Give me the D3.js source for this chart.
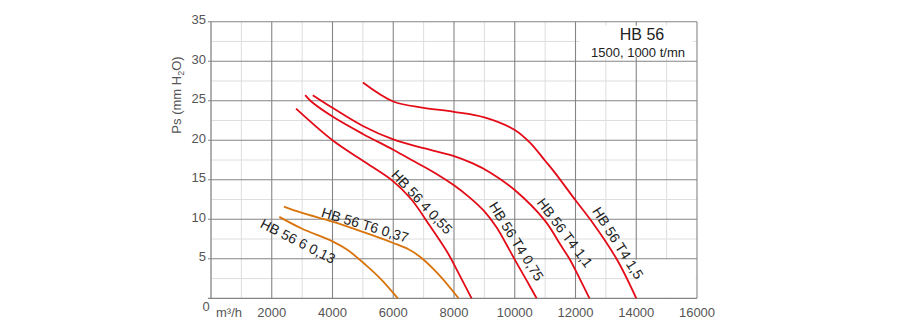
<!DOCTYPE html>
<html>
<head>
<meta charset="utf-8">
<script src="https://cdn.jsdelivr.net/npm/d3@7"></script>
<style>
  html, body { margin: 0; padding: 0; background: #fff; }
  svg { display: block; font-family: "Liberation Sans", Arial, sans-serif; }
</style>
</head>
<body>
<svg id="chart" width="900" height="328"></svg>
<script>
// ---- data ----
const xTicks = [2000, 4000, 6000, 8000, 10000, 12000, 14000, 16000];
const yTicks = [5, 10, 15, 20, 25, 30, 35];
const xMinor = [1000, 3000, 5000, 7000, 9000, 11000, 13000, 15000];
const yMinor = [2.5, 7.5, 12.5, 17.5, 22.5, 27.5, 32.5];

const curve_6_013 = [[2250,10.3],[3000,8.8],[4000,7.2],[4500,6.1],[5100,4.2],[5600,2.4],[6150,0]];
const curve_T6_037 = [[2400,11.6],[3000,10.8],[4000,9.7],[5000,8.4],[6000,7.0],[6500,6.2],[6900,5.2],[7500,3.0],[8150,0]];
const curve_4_055 = [[2800,24.0],[4000,20.0],[5000,17.4],[6000,14.8],[6600,12.5],[7200,9.2],[7800,5.7],[8200,2.8],[8580,0]];
const curve_T4_075 = [[3100,25.7],[3300,24.9],[4000,23.0],[5000,20.8],[6000,18.8],[6700,17.3],[7400,15.8],[8000,14.3],[8500,12.8],[9000,11.0],[9400,9.0],[9700,7.0],[10000,4.9],[10400,2.2],[10720,0]];
const curve_T4_11 = [[3350,25.7],[4000,24.1],[5000,21.8],[6000,20.1],[7000,19.0],[8000,18.0],[8600,17.1],[9200,15.9],[10000,13.7],[11000,9.8],[11500,6.8],[11800,5.0],[12150,2.4],[12460,0]];
const curve_T4_15 = [[5000,27.3],[6000,24.9],[7000,24.1],[8000,23.6],[9000,22.9],[10000,21.3],[10500,19.7],[11000,17.4],[11300,16.0],[12000,12.4],[12500,9.9],[13350,5.0],[14000,0]];

const seriesNames = ["HB 56 6 0,13","HB 56 T6 0,37","HB 56 4 0,55","HB 56 T4 0,75","HB 56 T4 1,1","HB 56 T4 1,5"];
const seriesData = [curve_6_013, curve_T6_037, curve_4_055, curve_T4_075, curve_T4_11, curve_T4_15];
const seriesKind = ["orange","orange","red","red","red","red"];
// label anchor (data coords) and angle
const labelX = [2864, 5070, 6946, 10060, 11650, 13400];
const labelY = [7.25, 9.3, 12.2, 7.2, 8.3, 7.0];
const labelAngle = [27, 17, 47, 58, 53, 57.5];

const titleText = "HB 56";
const subtitleText = "1500, 1000 t/mn";

// ---- layout ----
const svg = d3.select("#chart");
const x = d3.scaleLinear().domain([0, 16000]).range([211, 697]);
const y = d3.scaleLinear().domain([0, 35]).range([298.3, 21.7]);

const colors = { red: "#e30b17", orange: "#d9730b" };
const major = "#858585", minor = "#dedede", textCol = "#555";

const g = svg.append("g");

// minor grid
g.selectAll(".vmin").data(xMinor).join("line")
  .attr("x1", d => x(d)).attr("x2", d => x(d)).attr("y1", y(0)).attr("y2", y(35))
  .attr("stroke", minor).attr("stroke-width", 1);
g.selectAll(".hmin").data(yMinor).join("line")
  .attr("x1", x(0)).attr("x2", x(16000)).attr("y1", d => y(d)).attr("y2", d => y(d))
  .attr("stroke", minor).attr("stroke-width", 1);
// major grid
g.selectAll(".vmaj").data(xTicks).join("line")
  .attr("x1", d => x(d)).attr("x2", d => x(d)).attr("y1", y(0)).attr("y2", y(35))
  .attr("stroke", major).attr("stroke-width", 1.1);
g.selectAll(".hmaj").data(yTicks).join("line")
  .attr("x1", x(0) - 3).attr("x2", x(16000)).attr("y1", d => y(d)).attr("y2", d => y(d))
  .attr("stroke", major).attr("stroke-width", 1.1);

// white patches (legend box area and lower-right blank)
g.append("rect")
  .attr("x", x(12000) + 4).attr("y", y(35) + 4)
  .attr("width", x(16000) - x(12000) - 8).attr("height", y(30) - y(35) - 8)
  .attr("fill", "#fff");
g.append("rect")
  .attr("x", x(14000) - 1).attr("y", y(5) + 1)
  .attr("width", x(16000) - x(14000) - 0.5).attr("height", y(0) - y(5) - 2)
  .attr("fill", "#fff");

// axes lines
g.append("line").attr("x1", x(0)).attr("x2", x(0)).attr("y1", y(0)).attr("y2", y(35))
  .attr("stroke", major).attr("stroke-width", 1.3);
g.append("line").attr("x1", x(0) - 3).attr("x2", x(16000)).attr("y1", y(0)).attr("y2", y(0))
  .attr("stroke", major).attr("stroke-width", 1.3);

// tick labels
g.selectAll(".ylab").data(yTicks).join("text")
  .attr("x", 206).attr("y", d => y(d) + 2.5)
  .attr("text-anchor", "end").attr("font-size", 13).attr("fill", textCol)
  .text(d => d);
g.append("text").attr("x", 206).attr("y", 311).attr("text-anchor", "middle")
  .attr("font-size", 13).attr("fill", textCol).text("0");
g.selectAll(".xlab").data(xTicks).join("text")
  .attr("x", d => x(d)).attr("y", 317)
  .attr("text-anchor", "middle").attr("font-size", 13).attr("fill", textCol)
  .text(d => d);
g.append("text").attr("x", 216).attr("y", 317).attr("font-size", 13).attr("fill", textCol)
  .text("m³/h");

// y axis title
const yt = g.append("text")
  .attr("transform", "translate(180.5,95) rotate(-90)")
  .attr("text-anchor", "middle").attr("font-size", 13).attr("fill", textCol);
yt.append("tspan").text("Ps (mm H");
yt.append("tspan").attr("font-size", 9).attr("dy", 3).text("2");
yt.append("tspan").attr("dy", -3).text("O)");

// legend text
g.append("text").attr("x", 642).attr("y", 40).attr("text-anchor", "middle")
  .attr("font-size", 16).attr("fill", "#222").text(titleText);
g.append("text").attr("x", 638).attr("y", 56.5).attr("text-anchor", "middle")
  .attr("font-size", 13).attr("fill", "#222").text(subtitleText);

// curves
const line = d3.line().x(d => x(d[0])).y(d => y(d[1])).curve(d3.curveCatmullRom.alpha(0.5));
g.selectAll(".curve").data(seriesData).join("path")
  .attr("d", line).attr("fill", "none")
  .attr("stroke", (d, i) => colors[seriesKind[i]]).attr("stroke-width", 1.8);

// curve labels
g.selectAll(".clab").data(seriesNames).join("text")
  .attr("transform", (d, i) => `translate(${x(labelX[i])},${y(labelY[i])}) rotate(${labelAngle[i]})`)
  .attr("text-anchor", "middle").attr("dominant-baseline", "central")
  .attr("font-size", 14).attr("fill", "#222")
  .text(d => d);
</script>
</body>
</html>
